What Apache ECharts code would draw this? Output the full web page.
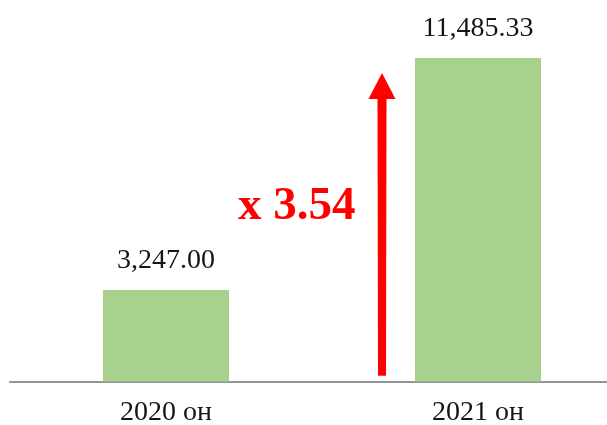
<!DOCTYPE html>
<html>
<head>
<meta charset="utf-8">
<script src="https://cdn.jsdelivr.net/npm/echarts@6/dist/echarts.min.js"></script>
<style>html,body{margin:0;padding:0;background:#fff}#c{width:607px;height:425px}</style>
</head>
<body>
<div id="c"></div>
<script>
const categories = ['2020 он', '2021 он'];
const values = [3247.00, 11485.33];
const arrowBottomValue = 200;

const fmt = v => v.toLocaleString('en-US', {minimumFractionDigits: 2, maximumFractionDigits: 2});
const ratioText = 'x 3.54';

const chart = echarts.init(document.getElementById('c'));
const serif = '"Liberation Serif", "Times New Roman", serif';
chart.setOption({
  animation: false,
  grid: {left: 10, right: -27, top: 58, bottom: 43.5, containLabel: false, outerBoundsMode: 'none'},
  xAxis: {
    type: 'category', data: categories,
    axisLine: {lineStyle: {color: '#959595', width: 2}},
    axisTick: {show: false},
    axisLabel: {fontFamily: serif, fontSize: 28, color: '#151515', margin: 17}
  },
  yAxis: {type: 'value', min: 0, max: 'dataMax', show: false, splitLine: {show: false}},
  series: [{
    type: 'bar', data: values, barWidth: 126,
    itemStyle: {color: '#A9D18E'},
    label: {show: true, position: 'top', distance: 15, fontFamily: serif, fontSize: 28, color: '#151515',
      formatter: p => fmt(p.value)}
  }]
});

// arrow + ratio annotation, positioned from the data via the chart scales
const p1 = chart.convertToPixel({seriesIndex: 0}, [1, values[1]]);
const p0 = chart.convertToPixel({seriesIndex: 0}, [1, arrowBottomValue]);
const ax = p1[0] - 63 - 33;
const topY = p1[1] + 15;
chart.setOption({
  graphic: [
    {type: 'polygon', shape: {points: [[ax - 4, p0[1]], [ax + 4, p0[1]], [ax + 4.5, topY + 25], [ax - 4.5, topY + 25]]}, style: {fill: '#FF0000'}},
    {type: 'polygon', shape: {points: [[ax, topY], [ax + 13.5, topY + 26], [ax - 13.5, topY + 26]]}, style: {fill: '#FF0000'}},
    {type: 'text', x: 238, y: 207, style: {text: ratioText, fill: '#FF0000', font: 'bold 47px ' + serif, verticalAlign: 'middle', align: 'left'}}
  ]
});
</script>
</body>
</html>
